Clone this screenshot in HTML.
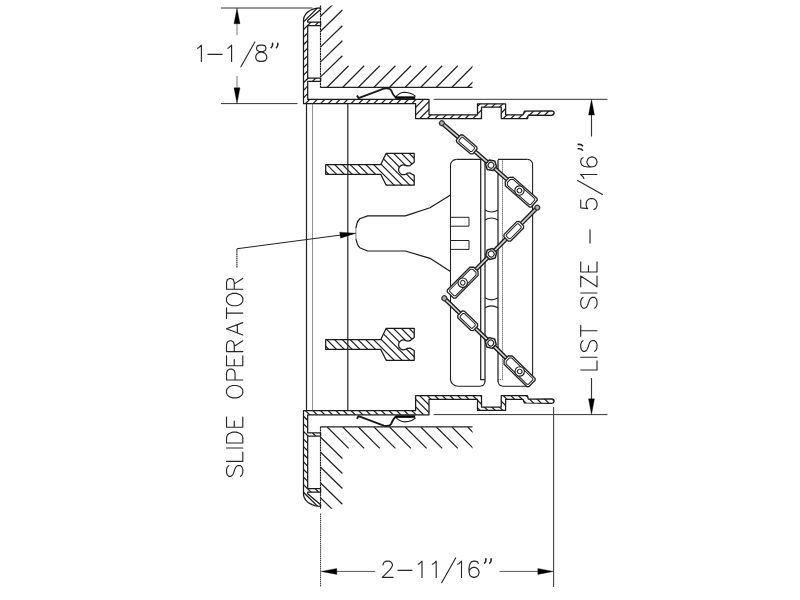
<!DOCTYPE html>
<html><head><meta charset="utf-8"><title>Drawing</title>
<style>html,body{margin:0;padding:0;background:#fff;font-family:"Liberation Sans",sans-serif;}svg{display:block}</style></head>
<body>
<svg width="800" height="600" viewBox="0 0 800 600">
<rect width="800" height="600" fill="#fff"/>
<defs>
<clipPath id="cf"><path d="M320.60,7.90 L317.63,8.09 L314.75,8.64 L312.05,9.55 L309.61,10.78 L307.50,12.29 L305.79,14.05 L304.53,15.99 L303.76,18.06 L303.50,20.20 L303.50,103.50 L415.60,103.50 L415.60,118.50 L481.50,118.50 L481.50,107.20 L501.25,107.20 L501.25,118.50 L527.50,118.50 L528.30,115.20 L552.00,115.30 L553.60,114.60 L554.20,113.10 L553.60,111.60 L552.00,110.90 L524.40,111.20 L523.00,114.75 L505.60,114.75 L505.60,103.75 L477.50,103.75 L477.50,114.75 L429.00,114.75 L429.00,99.40 L307.70,99.40 L307.70,81.25 L320.60,81.25 L320.60,78.10 L307.70,78.10 L307.70,25.60 L320.60,25.60 L320.60,22.00 L307.70,22.00 L307.70,20.50 L320.60,9.50 Z"/></clipPath>
<clipPath id="ct"><path d="M325.7,164.5 L380.75,164.5 L386.2,153.25 L414.2,153.25 L414.2,162.3 L410,165.6 Q407.5,166.3 405.6,165.4 A4.9,4.9 0 1 0 405.6,174.2 Q407.5,172.9 410,173 L414.2,175.4 L414.2,185.2 L386.2,185.2 L380.75,174.25 L325.7,174.25 Z"/></clipPath>
<clipPath id="cw"><rect x="320.6" y="5.5" width="151.9" height="81.7"/></clipPath>
</defs>
<g transform="">
<path d="M320.6,16.30 L342.4,-4.90 M320.6,31.20 L342.4,10.00 M320.6,46.90 L342.4,25.70 M320.6,61.90 L342.4,40.70 M320.6,76.90 L342.4,55.70 M327.20,87.2 L348.60,65.8 M342.80,87.2 L364.20,65.8 M358.40,87.2 L379.80,65.8 M374.00,87.2 L395.40,65.8 M389.60,87.2 L411.00,65.8 M405.20,87.2 L426.60,65.8 M420.80,87.2 L442.20,65.8 M436.40,87.2 L457.80,65.8 M452.00,87.2 L473.40,65.8 M467.60,87.2 L489.00,65.8 " clip-path="url(#cw)" fill="none" stroke="#222" stroke-width="1.22"/>
<path d="M320.5,5.5 L320.5,87.2" fill="none" stroke="#1a1a1a" stroke-width="1.15" stroke-dasharray="2 0.5"/>
<path d="M320.2,87.3 H472.5" fill="none" stroke="#222" stroke-width="1.25"/>
<path d="M302.65,0 L172.65,130 M310.25,0 L180.25,130 M317.85,0 L187.85,130 M325.45,0 L195.45,130 M333.05,0 L203.05,130 M340.65,0 L210.65,130 M348.25,0 L218.25,130 M355.85,0 L225.85,130 M363.45,0 L233.45,130 M371.05,0 L241.05,130 M378.65,0 L248.65,130 M386.25,0 L256.25,130 M393.85,0 L263.85,130 M401.45,0 L271.45,130 M409.05,0 L279.05,130 M416.65,0 L286.65,130 M424.25,0 L294.25,130 M431.85,0 L301.85,130 M439.45,0 L309.45,130 M447.05,0 L317.05,130 M454.65,0 L324.65,130 M462.25,0 L332.25,130 M469.85,0 L339.85,130 M477.45,0 L347.45,130 M485.05,0 L355.05,130 M492.65,0 L362.65,130 M500.25,0 L370.25,130 M507.85,0 L377.85,130 M515.45,0 L385.45,130 M523.05,0 L393.05,130 M530.65,0 L400.65,130 M538.25,0 L408.25,130 M545.85,0 L415.85,130 M553.45,0 L423.45,130 M561.05,0 L431.05,130 M568.65,0 L438.65,130 M576.25,0 L446.25,130 M583.85,0 L453.85,130 M591.45,0 L461.45,130 M599.05,0 L469.05,130 M606.65,0 L476.65,130 M614.25,0 L484.25,130 M621.85,0 L491.85,130 M629.45,0 L499.45,130 M637.05,0 L507.05,130 M644.65,0 L514.65,130 M652.25,0 L522.25,130 M659.85,0 L529.85,130 M667.45,0 L537.45,130 M675.05,0 L545.05,130 M682.65,0 L552.65,130 M690.25,0 L560.25,130 M697.85,0 L567.85,130 M705.45,0 L575.45,130 M713.05,0 L583.05,130 " clip-path="url(#cf)" fill="none" stroke="#222" stroke-width="1.25"/>
<path d="M320.60,7.90 L317.63,8.09 L314.75,8.64 L312.05,9.55 L309.61,10.78 L307.50,12.29 L305.79,14.05 L304.53,15.99 L303.76,18.06 L303.50,20.20 L303.50,103.50 L415.60,103.50 L415.60,118.50 L481.50,118.50 L481.50,107.20 L501.25,107.20 L501.25,118.50 L527.50,118.50 L528.30,115.20 L552.00,115.30 L553.60,114.60 L554.20,113.10 L553.60,111.60 L552.00,110.90 L524.40,111.20 L523.00,114.75 L505.60,114.75 L505.60,103.75 L477.50,103.75 L477.50,114.75 L429.00,114.75 L429.00,99.40 L307.70,99.40 L307.70,81.25 L320.60,81.25 L320.60,78.10 L307.70,78.10 L307.70,25.60 L320.60,25.60 L320.60,22.00 L307.70,22.00 L307.70,20.50 L320.60,9.50 Z" fill="none" stroke="#1a1a1a" stroke-width="1.25" stroke-linejoin="round"/>
<path d="M356.9,95.4 L358.6,98.1 L383.75,88.6 Q389,87.3 391,90 Q393.3,95.5 395.5,97.4" fill="none" stroke="#1a1a1a" stroke-width="1.9" stroke-linejoin="round"/>
<path d="M395.3,97.3 Q399.5,92.4 405,92.3 Q411.5,92.7 415.6,96.3" fill="none" stroke="#1a1a1a" stroke-width="1.1"/>
<path d="M395.2,97.6 L415.2,97.6" fill="none" stroke="#000" stroke-width="2.5"/>
</g>
<g transform="matrix(1 0 0 -1 0 514.20)">
<path d="M320.6,16.30 L342.4,-4.90 M320.6,31.20 L342.4,10.00 M320.6,46.90 L342.4,25.70 M320.6,61.90 L342.4,40.70 M320.6,76.90 L342.4,55.70 M327.20,87.2 L348.60,65.8 M342.80,87.2 L364.20,65.8 M358.40,87.2 L379.80,65.8 M374.00,87.2 L395.40,65.8 M389.60,87.2 L411.00,65.8 M405.20,87.2 L426.60,65.8 M420.80,87.2 L442.20,65.8 M436.40,87.2 L457.80,65.8 M452.00,87.2 L473.40,65.8 M467.60,87.2 L489.00,65.8 " clip-path="url(#cw)" fill="none" stroke="#222" stroke-width="1.22"/>
<path d="M320.5,5.5 L320.5,87.2" fill="none" stroke="#1a1a1a" stroke-width="1.15" stroke-dasharray="2 0.5"/>
<path d="M320.2,87.3 H472.5" fill="none" stroke="#222" stroke-width="1.25"/>
<path d="M302.65,0 L172.65,130 M310.25,0 L180.25,130 M317.85,0 L187.85,130 M325.45,0 L195.45,130 M333.05,0 L203.05,130 M340.65,0 L210.65,130 M348.25,0 L218.25,130 M355.85,0 L225.85,130 M363.45,0 L233.45,130 M371.05,0 L241.05,130 M378.65,0 L248.65,130 M386.25,0 L256.25,130 M393.85,0 L263.85,130 M401.45,0 L271.45,130 M409.05,0 L279.05,130 M416.65,0 L286.65,130 M424.25,0 L294.25,130 M431.85,0 L301.85,130 M439.45,0 L309.45,130 M447.05,0 L317.05,130 M454.65,0 L324.65,130 M462.25,0 L332.25,130 M469.85,0 L339.85,130 M477.45,0 L347.45,130 M485.05,0 L355.05,130 M492.65,0 L362.65,130 M500.25,0 L370.25,130 M507.85,0 L377.85,130 M515.45,0 L385.45,130 M523.05,0 L393.05,130 M530.65,0 L400.65,130 M538.25,0 L408.25,130 M545.85,0 L415.85,130 M553.45,0 L423.45,130 M561.05,0 L431.05,130 M568.65,0 L438.65,130 M576.25,0 L446.25,130 M583.85,0 L453.85,130 M591.45,0 L461.45,130 M599.05,0 L469.05,130 M606.65,0 L476.65,130 M614.25,0 L484.25,130 M621.85,0 L491.85,130 M629.45,0 L499.45,130 M637.05,0 L507.05,130 M644.65,0 L514.65,130 M652.25,0 L522.25,130 M659.85,0 L529.85,130 M667.45,0 L537.45,130 M675.05,0 L545.05,130 M682.65,0 L552.65,130 M690.25,0 L560.25,130 M697.85,0 L567.85,130 M705.45,0 L575.45,130 M713.05,0 L583.05,130 " clip-path="url(#cf)" fill="none" stroke="#222" stroke-width="1.25"/>
<path d="M320.60,7.90 L317.63,8.09 L314.75,8.64 L312.05,9.55 L309.61,10.78 L307.50,12.29 L305.79,14.05 L304.53,15.99 L303.76,18.06 L303.50,20.20 L303.50,103.50 L415.60,103.50 L415.60,118.50 L481.50,118.50 L481.50,107.20 L501.25,107.20 L501.25,118.50 L527.50,118.50 L528.30,115.20 L552.00,115.30 L553.60,114.60 L554.20,113.10 L553.60,111.60 L552.00,110.90 L524.40,111.20 L523.00,114.75 L505.60,114.75 L505.60,103.75 L477.50,103.75 L477.50,114.75 L429.00,114.75 L429.00,99.40 L307.70,99.40 L307.70,81.25 L320.60,81.25 L320.60,78.10 L307.70,78.10 L307.70,25.60 L320.60,25.60 L320.60,22.00 L307.70,22.00 L307.70,20.50 L320.60,9.50 Z" fill="none" stroke="#1a1a1a" stroke-width="1.25" stroke-linejoin="round"/>
<path d="M356.9,95.4 L358.6,98.1 L383.75,88.6 Q389,87.3 391,90 Q393.3,95.5 395.5,97.4" fill="none" stroke="#1a1a1a" stroke-width="1.9" stroke-linejoin="round"/>
<path d="M395.3,97.3 Q399.5,92.4 405,92.3 Q411.5,92.7 415.6,96.3" fill="none" stroke="#1a1a1a" stroke-width="1.1"/>
<path d="M395.2,97.6 L415.2,97.6" fill="none" stroke="#000" stroke-width="2.5"/>
</g>
<path d="M306.5,103.5 V410.7 M347.8,103.5 V410.7" fill="none" stroke="#222" stroke-width="1.2"/>
<path d="M312.5,103.5 V410.7" fill="none" stroke="#222" stroke-width="1" stroke-dasharray="1 1"/>
<g transform="translate(0,0.00)">
<path d="M255.45,140 L315.45,200 M263.25,140 L323.25,200 M271.05,140 L331.05,200 M278.85,140 L338.85,200 M286.65,140 L346.65,200 M294.45,140 L354.45,200 M302.25,140 L362.25,200 M310.05,140 L370.05,200 M317.85,140 L377.85,200 M325.65,140 L385.65,200 M333.45,140 L393.45,200 M341.25,140 L401.25,200 M349.05,140 L409.05,200 M356.85,140 L416.85,200 M364.65,140 L424.65,200 M372.45,140 L432.45,200 M380.25,140 L440.25,200 M388.05,140 L448.05,200 M395.85,140 L455.85,200 M403.65,140 L463.65,200 " clip-path="url(#ct)" fill="none" stroke="#222" stroke-width="1.2"/>
<path d="M325.7,164.5 L380.75,164.5 L386.2,153.25 L414.2,153.25 L414.2,162.3 L410,165.6 Q407.5,166.3 405.6,165.4 A4.9,4.9 0 1 0 405.6,174.2 Q407.5,172.9 410,173 L414.2,175.4 L414.2,185.2 L386.2,185.2 L380.75,174.25 L325.7,174.25 Z" fill="none" stroke="#1a1a1a" stroke-width="1.25" stroke-linejoin="round"/>
</g>
<g transform="translate(0,175.10)">
<path d="M255.45,140 L315.45,200 M263.25,140 L323.25,200 M271.05,140 L331.05,200 M278.85,140 L338.85,200 M286.65,140 L346.65,200 M294.45,140 L354.45,200 M302.25,140 L362.25,200 M310.05,140 L370.05,200 M317.85,140 L377.85,200 M325.65,140 L385.65,200 M333.45,140 L393.45,200 M341.25,140 L401.25,200 M349.05,140 L409.05,200 M356.85,140 L416.85,200 M364.65,140 L424.65,200 M372.45,140 L432.45,200 M380.25,140 L440.25,200 M388.05,140 L448.05,200 M395.85,140 L455.85,200 M403.65,140 L463.65,200 " clip-path="url(#ct)" fill="none" stroke="#222" stroke-width="1.2"/>
<path d="M325.7,164.5 L380.75,164.5 L386.2,153.25 L414.2,153.25 L414.2,162.3 L410,165.6 Q407.5,166.3 405.6,165.4 A4.9,4.9 0 1 0 405.6,174.2 Q407.5,172.9 410,173 L414.2,175.4 L414.2,185.2 L386.2,185.2 L380.75,174.25 L325.7,174.25 Z" fill="none" stroke="#1a1a1a" stroke-width="1.25" stroke-linejoin="round"/>
</g>
<path d="M450.5,195 L430,207.75 L405.25,215.9 L367.6,215.9 L359.8,218.75 Q357.7,220.8 357,223.3 L355.9,228" fill="none" stroke="#1a1a1a" stroke-width="1.2" stroke-linejoin="round"/>
<path d="M450.5,271.6 L430,258.3 L405.25,251 L367.6,251 L359.8,247.7 Q357.7,245.4 357,242.8 L355.9,239" fill="none" stroke="#1a1a1a" stroke-width="1.2" stroke-linejoin="round"/>
<path d="M355.9,228 V239" fill="none" stroke="#888" stroke-width="1.1"/>
<path d="M456.5,159.4 A6,6 0 0 0 450.5,165.4 V379.8 A7.5,7.5 0 0 0 458,386.2 H480 Q484.8,386 485,381" fill="none" stroke="#222" stroke-width="1.1" />
<path d="M480.7,159.4 V379.7 H485" fill="none" stroke="#222" stroke-width="1.25"/>
<path d="M485,159.4 V381.5" fill="none" stroke="#222" stroke-width="1.25"/>
<path d="M527.5,159.4 A5,5 0 0 1 532.6,164.4 V380 A7.5,7.5 0 0 1 525,386.2 H503 Q498.2,386 498,381" fill="none" stroke="#222" stroke-width="1.1" />
<path d="M498,159.8 V381.5" fill="none" stroke="#222" stroke-width="1.25"/>
<path d="M502.5,159.4 V379.7 H498" fill="none" stroke="#333" stroke-width="1" stroke-dasharray="1 1"/>
<path d="M456.5,159.4 H485 M498,159.4 H527.5" fill="none" stroke="#222" stroke-width="1.15"/>
<path d="M485,210.00 Q491.5,214.00 498,210.00 M485,220.00 Q491.5,216.00 498,220.00" fill="none" stroke="#222" stroke-width="1.15"/>
<path d="M485,297.80 Q491.5,301.80 498,297.80 M485,307.80 Q491.5,303.80 498,307.80" fill="none" stroke="#222" stroke-width="1.15"/>
<path d="M450.5,217.30 H469 V226.20 H450.5" fill="none" stroke="#222" stroke-width="1"/>
<path d="M450.5,240.50 H469 V249.40 H450.5" fill="none" stroke="#222" stroke-width="1"/>
<g transform="translate(491.00,165.25) rotate(40.60)">
<path d="M-62.70,0 H-41.5 M-22,0 H-4.5" fill="none" stroke="#d4d4d4" stroke-width="2.4"/>
<path d="M-62.70,-1.50 H-41.5 M-62.70,1.50 H-41.5 M-22,-1.50 H-4.5 M-22,1.50 H-4.5" fill="none" stroke="#1a1a1a" stroke-width="1.35"/>
<circle cx="-64.70" cy="0" r="2.4" fill="#b0b0b0" stroke="#333" stroke-width="1.2"/>
<path d="M-42.80,-3.20 L-41.00,-4.70 L-23.00,-4.70 L-21.20,-3.20 L-21.20,3.20 L-23.00,4.70 L-41.00,4.70 L-42.80,3.20 Z" fill="#fff" stroke="#222" stroke-width="1.3" stroke-linejoin="round"/>
<path d="M-40.60,-2.00 L-39.60,-2.90 L-24.40,-2.90 L-23.40,-2.00 L-23.40,2.00 L-24.40,2.90 L-39.60,2.90 L-40.60,2.00 Z" fill="none" stroke="#222" stroke-width="1.0" stroke-linejoin="round"/>
</g>
<g transform="translate(491.00,165.25) rotate(41.60)">
<path d="M4.5,0 H22.5" fill="none" stroke="#d4d4d4" stroke-width="2.4"/>
<path d="M4.5,-1.50 H22.5 M4.5,1.50 H22.5" fill="none" stroke="#1a1a1a" stroke-width="1.35"/>
<path d="M21.60,-3.00 L24.40,-5.80 L56.50,-5.80 L57.80,-4.50 L57.80,4.50 L56.50,5.80 L24.40,5.80 L21.60,3.00 Z" fill="#fff" stroke="#222" stroke-width="1.3" stroke-linejoin="round"/>
<path d="M23.80,-2.20 L25.60,-4.10 L54.80,-4.10 L55.80,-3.10 L55.80,3.10 L54.80,4.10 L25.60,4.10 L23.80,2.20 Z" fill="none" stroke="#222" stroke-width="1.0" stroke-linejoin="round"/>
<circle cx="38.10" cy="0" r="4.7" fill="#fff" stroke="#222" stroke-width="1.15"/>
<circle cx="38.10" cy="0" r="2.3" fill="#fff" stroke="#222" stroke-width="1.05"/>
<polygon points="4.85,2.80 0.00,5.60 -4.85,2.80 -4.85,-2.80 -0.00,-5.60 4.85,-2.80" fill="#fff" stroke="#222" stroke-width="1.5" stroke-linejoin="round"/>
<circle cx="0" cy="0" r="2.9" fill="none" stroke="#222" stroke-width="1.1"/>
</g>
<g transform="translate(491.20,254.00) rotate(134.80)">
<path d="M-63.40,0 H-41.5 M-22,0 H-4.5" fill="none" stroke="#d4d4d4" stroke-width="2.4"/>
<path d="M-63.40,-1.50 H-41.5 M-63.40,1.50 H-41.5 M-22,-1.50 H-4.5 M-22,1.50 H-4.5" fill="none" stroke="#1a1a1a" stroke-width="1.35"/>
<circle cx="-65.40" cy="0" r="2.4" fill="#b0b0b0" stroke="#333" stroke-width="1.2"/>
<path d="M-42.80,-3.20 L-41.00,-4.70 L-23.00,-4.70 L-21.20,-3.20 L-21.20,3.20 L-23.00,4.70 L-41.00,4.70 L-42.80,3.20 Z" fill="#fff" stroke="#222" stroke-width="1.3" stroke-linejoin="round"/>
<path d="M-40.60,-2.00 L-39.60,-2.90 L-24.40,-2.90 L-23.40,-2.00 L-23.40,2.00 L-24.40,2.90 L-39.60,2.90 L-40.60,2.00 Z" fill="none" stroke="#222" stroke-width="1.0" stroke-linejoin="round"/>
</g>
<g transform="translate(491.20,254.00) rotate(134.80)">
<path d="M4.5,0 H22.5" fill="none" stroke="#d4d4d4" stroke-width="2.4"/>
<path d="M4.5,-1.50 H22.5 M4.5,1.50 H22.5" fill="none" stroke="#1a1a1a" stroke-width="1.35"/>
<path d="M21.60,-3.00 L24.40,-5.80 L56.50,-5.80 L57.80,-4.50 L57.80,4.50 L56.50,5.80 L24.40,5.80 L21.60,3.00 Z" fill="#fff" stroke="#222" stroke-width="1.3" stroke-linejoin="round"/>
<path d="M23.80,-2.20 L25.60,-4.10 L54.80,-4.10 L55.80,-3.10 L55.80,3.10 L54.80,4.10 L25.60,4.10 L23.80,2.20 Z" fill="none" stroke="#222" stroke-width="1.0" stroke-linejoin="round"/>
<circle cx="40.40" cy="0" r="4.7" fill="#fff" stroke="#222" stroke-width="1.15"/>
<circle cx="40.40" cy="0" r="2.3" fill="#fff" stroke="#222" stroke-width="1.05"/>
<polygon points="4.85,2.80 0.00,5.60 -4.85,2.80 -4.85,-2.80 -0.00,-5.60 4.85,-2.80" fill="#fff" stroke="#222" stroke-width="1.5" stroke-linejoin="round"/>
<circle cx="0" cy="0" r="2.9" fill="none" stroke="#222" stroke-width="1.1"/>
</g>
<g transform="translate(490.75,343.00) rotate(43.90)">
<path d="M-62.50,0 H-41.5 M-22,0 H-4.5" fill="none" stroke="#d4d4d4" stroke-width="2.4"/>
<path d="M-62.50,-1.50 H-41.5 M-62.50,1.50 H-41.5 M-22,-1.50 H-4.5 M-22,1.50 H-4.5" fill="none" stroke="#1a1a1a" stroke-width="1.35"/>
<circle cx="-64.50" cy="0" r="2.4" fill="#b0b0b0" stroke="#333" stroke-width="1.2"/>
<path d="M-42.80,-3.20 L-41.00,-4.70 L-23.00,-4.70 L-21.20,-3.20 L-21.20,3.20 L-23.00,4.70 L-41.00,4.70 L-42.80,3.20 Z" fill="#fff" stroke="#222" stroke-width="1.3" stroke-linejoin="round"/>
<path d="M-40.60,-2.00 L-39.60,-2.90 L-24.40,-2.90 L-23.40,-2.00 L-23.40,2.00 L-24.40,2.90 L-39.60,2.90 L-40.60,2.00 Z" fill="none" stroke="#222" stroke-width="1.0" stroke-linejoin="round"/>
</g>
<g transform="translate(490.75,343.00) rotate(44.50)">
<path d="M4.5,0 H22.5" fill="none" stroke="#d4d4d4" stroke-width="2.4"/>
<path d="M4.5,-1.50 H22.5 M4.5,1.50 H22.5" fill="none" stroke="#1a1a1a" stroke-width="1.35"/>
<path d="M21.60,-3.00 L24.40,-5.80 L56.50,-5.80 L57.80,-4.50 L57.80,4.50 L56.50,5.80 L24.40,5.80 L21.60,3.00 Z" fill="#fff" stroke="#222" stroke-width="1.3" stroke-linejoin="round"/>
<path d="M23.80,-2.20 L25.60,-4.10 L54.80,-4.10 L55.80,-3.10 L55.80,3.10 L54.80,4.10 L25.60,4.10 L23.80,2.20 Z" fill="none" stroke="#222" stroke-width="1.0" stroke-linejoin="round"/>
<circle cx="40.60" cy="0" r="4.7" fill="#fff" stroke="#222" stroke-width="1.15"/>
<circle cx="40.60" cy="0" r="2.3" fill="#fff" stroke="#222" stroke-width="1.05"/>
<polygon points="4.85,2.80 0.00,5.60 -4.85,2.80 -4.85,-2.80 -0.00,-5.60 4.85,-2.80" fill="#fff" stroke="#222" stroke-width="1.5" stroke-linejoin="round"/>
<circle cx="0" cy="0" r="2.9" fill="none" stroke="#222" stroke-width="1.1"/>
</g>
<path d="M221,8 H312.5 M221,103.6 H297.5" fill="none" stroke="#333" stroke-width="1"/>
<path d="M237,22 V35.2 M237,76 V90" fill="none" stroke="#666" stroke-width="0.9"/>
<path d="M0,0 L-15.80,-3.00 L-15.80,3.00 Z" transform="translate(237.00,8.00) rotate(-90.00)" fill="#000" stroke="#000" stroke-width="0.3"/>
<path d="M0,0 L-15.80,-3.00 L-15.80,3.00 Z" transform="translate(237.00,103.60) rotate(90.00)" fill="#000" stroke="#000" stroke-width="0.3"/>
<path d="M433.7,99.3 H607.5 M433.7,414.6 H607.5" fill="none" stroke="#333" stroke-width="1"/>
<path d="M591.5,113 V136.5 M591.5,378 V401" fill="none" stroke="#333" stroke-width="1.15"/>
<path d="M0,0 L-15.80,-3.00 L-15.80,3.00 Z" transform="translate(591.50,99.30) rotate(-90.00)" fill="#000" stroke="#000" stroke-width="0.3"/>
<path d="M0,0 L-15.80,-3.00 L-15.80,3.00 Z" transform="translate(591.50,414.60) rotate(90.00)" fill="#000" stroke="#000" stroke-width="0.3"/>
<path d="M553.6,407 V587" fill="none" stroke="#333" stroke-width="1"/>
<path d="M320.6,513.5 V587" fill="none" stroke="#333" stroke-width="1" stroke-dasharray="1.5 0.6"/>
<path d="M335,571.4 H375.3 M499.5,571.4 H539" fill="none" stroke="#444" stroke-width="0.9"/>
<path d="M0,0 L-15.80,-3.00 L-15.80,3.00 Z" transform="translate(321.00,571.40) rotate(180.00)" fill="#000" stroke="#000" stroke-width="0.3"/>
<path d="M0,0 L-15.80,-3.00 L-15.80,3.00 Z" transform="translate(553.60,571.40) rotate(0.00)" fill="#000" stroke="#000" stroke-width="0.3"/>
<path d="M236.9,248.7 L341,235.1" fill="none" stroke="#222" stroke-width="1.05"/>
<path d="M236.9,267.5 V248.7" fill="none" stroke="#222" stroke-width="1.1" stroke-dasharray="1.6 0.5"/>
<path d="M0,0 L-16.00,-3.00 L-16.00,3.00 Z" transform="translate(356.00,233.20) rotate(-7.20)" fill="#000" stroke="#000" stroke-width="0.3"/>
<path d="M197.53,-13.18 L199.07,-13.95 L201.40,-16.28 L201.40,0.00 M208.00,-6.98 L221.95,-6.98 M227.72,-13.18 L229.27,-13.95 L231.60,-16.28 L231.60,0.00 M254.85,-19.38 L240.90,5.42 M259.68,-16.28 L257.35,-15.50 L256.58,-13.95 L256.58,-12.40 L257.35,-10.85 L258.90,-10.08 L262.00,-9.30 L264.33,-8.53 L265.88,-6.98 L266.65,-5.42 L266.65,-3.10 L265.88,-1.55 L265.10,-0.78 L262.78,0.00 L259.68,0.00 L257.35,-0.78 L256.58,-1.55 L255.80,-3.10 L255.80,-5.42 L256.58,-6.98 L258.12,-8.53 L260.45,-9.30 L263.55,-10.08 L265.10,-10.85 L265.88,-12.40 L265.88,-13.95 L265.10,-15.50 L262.78,-16.28 L259.68,-16.28 " transform="translate(0,61.40)" fill="none" stroke="#262626" stroke-width="1.15" stroke-linecap="round" stroke-linejoin="round"/>
<path d="M272.60,-18.00 l0,1.0 q0.1,2.0 -1.4,3.2 M277.80,-18.00 l0,1.0 q0.1,2.0 -1.4,3.2 " transform="translate(0,61.40)" fill="none" stroke="#222" stroke-width="1.6" stroke-linecap="round"/>
<path d="M383.08,-12.40 L383.08,-13.18 L383.85,-14.72 L384.62,-15.50 L386.18,-16.28 L389.28,-16.28 L390.83,-15.50 L391.60,-14.72 L392.38,-13.18 L392.38,-11.62 L391.60,-10.08 L390.05,-7.75 L382.30,0.00 L393.15,0.00 M398.00,-6.98 L411.95,-6.98 M418.12,-13.18 L419.68,-13.95 L422.00,-16.28 L422.00,0.00 M432.32,-13.18 L433.88,-13.95 L436.20,-16.28 L436.20,0.00 M455.65,-19.38 L441.70,5.42 M457.62,-13.18 L459.18,-13.95 L461.50,-16.28 L461.50,0.00 M478.30,-13.95 L477.52,-15.50 L475.20,-16.28 L473.65,-16.28 L471.32,-15.50 L469.77,-13.18 L469.00,-9.30 L469.00,-5.42 L469.77,-2.33 L471.32,-0.78 L473.65,0.00 L474.42,0.00 L476.75,-0.78 L478.30,-2.33 L479.07,-4.65 L479.07,-5.42 L478.30,-7.75 L476.75,-9.30 L474.42,-10.08 L473.65,-10.08 L471.32,-9.30 L469.77,-7.75 L469.00,-5.42 " transform="translate(0,577.40)" fill="none" stroke="#262626" stroke-width="1.15" stroke-linecap="round" stroke-linejoin="round"/>
<path d="M485.90,-18.50 l0,1.0 q0.1,2.0 -1.4,3.2 M491.10,-18.50 l0,1.0 q0.1,2.0 -1.4,3.2 " transform="translate(0,577.40)" fill="none" stroke="#222" stroke-width="1.6" stroke-linecap="round"/>
<path d="M10.85,-13.95 L9.30,-15.50 L6.98,-16.28 L3.88,-16.28 L1.55,-15.50 L0.00,-13.95 L0.00,-12.40 L0.77,-10.85 L1.55,-10.08 L3.10,-9.30 L7.75,-7.75 L9.30,-6.98 L10.07,-6.20 L10.85,-4.65 L10.85,-2.33 L9.30,-0.78 L6.98,0.00 L3.88,0.00 L1.55,-0.78 L0.00,-2.33 M15.00,-16.28 L15.00,0.00 M15.00,0.00 L24.30,0.00 M28.40,-16.28 L28.40,0.00 M33.40,-16.28 L33.40,0.00 M33.40,-16.28 L38.82,-16.28 L41.15,-15.50 L42.70,-13.95 L43.47,-12.40 L44.25,-10.08 L44.25,-6.20 L43.47,-3.88 L42.70,-2.33 L41.15,-0.78 L38.82,0.00 L33.40,0.00 M49.20,-16.28 L49.20,0.00 M49.20,-16.28 L59.28,-16.28 M49.20,-8.53 L55.40,-8.53 M49.20,0.00 L59.28,0.00 M83.15,-16.28 L81.60,-15.50 L80.05,-13.95 L79.27,-12.40 L78.50,-10.08 L78.50,-6.20 L79.27,-3.88 L80.05,-2.33 L81.60,-0.78 L83.15,0.00 L86.25,0.00 L87.80,-0.78 L89.35,-2.33 L90.12,-3.88 L90.90,-6.20 L90.90,-10.08 L90.12,-12.40 L89.35,-13.95 L87.80,-15.50 L86.25,-16.28 L83.15,-16.28 M96.40,-16.28 L96.40,0.00 M96.40,-16.28 L103.38,-16.28 L105.70,-15.50 L106.48,-14.72 L107.25,-13.18 L107.25,-10.85 L106.48,-9.30 L105.70,-8.53 L103.38,-7.75 L96.40,-7.75 M110.60,-16.28 L110.60,0.00 M110.60,-16.28 L120.67,-16.28 M110.60,-8.53 L116.80,-8.53 M110.60,0.00 L120.67,0.00 M124.80,-16.28 L124.80,0.00 M124.80,-16.28 L131.78,-16.28 L134.10,-15.50 L134.88,-14.72 L135.65,-13.18 L135.65,-11.62 L134.88,-10.08 L134.10,-9.30 L131.78,-8.53 L124.80,-8.53 M130.22,-8.53 L135.65,0.00 M147.60,-16.28 L141.40,0.00 M147.60,-16.28 L153.80,0.00 M143.72,-5.42 L151.47,-5.42 M163.22,-16.28 L163.22,0.00 M157.80,-16.28 L168.65,-16.28 M175.25,-16.28 L173.70,-15.50 L172.15,-13.95 L171.38,-12.40 L170.60,-10.08 L170.60,-6.20 L171.38,-3.88 L172.15,-2.33 L173.70,-0.78 L175.25,0.00 L178.35,0.00 L179.90,-0.78 L181.45,-2.33 L182.22,-3.88 L183.00,-6.20 L183.00,-10.08 L182.22,-12.40 L181.45,-13.95 L179.90,-15.50 L178.35,-16.28 L175.25,-16.28 M187.10,-16.28 L187.10,0.00 M187.10,-16.28 L194.07,-16.28 L196.40,-15.50 L197.18,-14.72 L197.95,-13.18 L197.95,-11.62 L197.18,-10.08 L196.40,-9.30 L194.07,-8.53 L187.10,-8.53 M192.53,-8.53 L197.95,0.00 " transform="translate(242.80,476.40) rotate(-90)" fill="none" stroke="#262626" stroke-width="1.15" stroke-linecap="round" stroke-linejoin="round"/>
<path d="M0.00,-16.28 L0.00,0.00 M0.00,0.00 L9.30,0.00 M12.80,-16.28 L12.80,0.00 M29.45,-13.95 L27.90,-15.50 L25.58,-16.28 L22.48,-16.28 L20.15,-15.50 L18.60,-13.95 L18.60,-12.40 L19.38,-10.85 L20.15,-10.08 L21.70,-9.30 L26.35,-7.75 L27.90,-6.98 L28.68,-6.20 L29.45,-4.65 L29.45,-2.33 L27.90,-0.78 L25.58,0.00 L22.48,0.00 L20.15,-0.78 L18.60,-2.33 M39.23,-16.28 L39.23,0.00 M33.80,-16.28 L44.65,-16.28 M72.65,-13.95 L71.10,-15.50 L68.77,-16.28 L65.67,-16.28 L63.35,-15.50 L61.80,-13.95 L61.80,-12.40 L62.57,-10.85 L63.35,-10.08 L64.90,-9.30 L69.55,-7.75 L71.10,-6.98 L71.88,-6.20 L72.65,-4.65 L72.65,-2.33 L71.10,-0.78 L68.77,0.00 L65.67,0.00 L63.35,-0.78 L61.80,-2.33 M77.00,-16.28 L77.00,0.00 M94.05,-16.28 L83.20,0.00 M83.20,-16.28 L94.05,-16.28 M83.20,0.00 L94.05,0.00 M98.00,-16.28 L98.00,0.00 M98.00,-16.28 L108.08,-16.28 M98.00,-8.53 L104.20,-8.53 M98.00,0.00 L108.08,0.00 M126.90,-6.98 L140.08,-6.98 M169.90,-16.28 L162.15,-16.28 L161.38,-9.30 L162.15,-10.08 L164.47,-10.85 L166.80,-10.85 L169.12,-10.08 L170.68,-8.53 L171.45,-6.20 L171.45,-4.65 L170.68,-2.33 L169.12,-0.78 L166.80,0.00 L164.47,0.00 L162.15,-0.78 L161.38,-1.55 L160.60,-3.10 M189.55,-19.38 L175.60,5.42 M191.62,-13.18 L193.17,-13.95 L195.50,-16.28 L195.50,0.00 M212.30,-13.95 L211.53,-15.50 L209.20,-16.28 L207.65,-16.28 L205.33,-15.50 L203.78,-13.18 L203.00,-9.30 L203.00,-5.42 L203.78,-2.33 L205.33,-0.78 L207.65,0.00 L208.43,0.00 L210.75,-0.78 L212.30,-2.33 L213.08,-4.65 L213.08,-5.42 L212.30,-7.75 L210.75,-9.30 L208.43,-10.08 L207.65,-10.08 L205.33,-9.30 L203.78,-7.75 L203.00,-5.42 " transform="translate(597.00,370.00) rotate(-90)" fill="none" stroke="#262626" stroke-width="1.15" stroke-linecap="round" stroke-linejoin="round"/>
<path d="M221.20,-18.70 l0,1.0 q0.1,2.0 -1.4,3.2 M225.60,-18.70 l0,1.0 q0.1,2.0 -1.4,3.2 " transform="translate(597.00,370.00) rotate(-90)" fill="none" stroke="#222" stroke-width="1.6" stroke-linecap="round"/>
</svg>
</body></html>
